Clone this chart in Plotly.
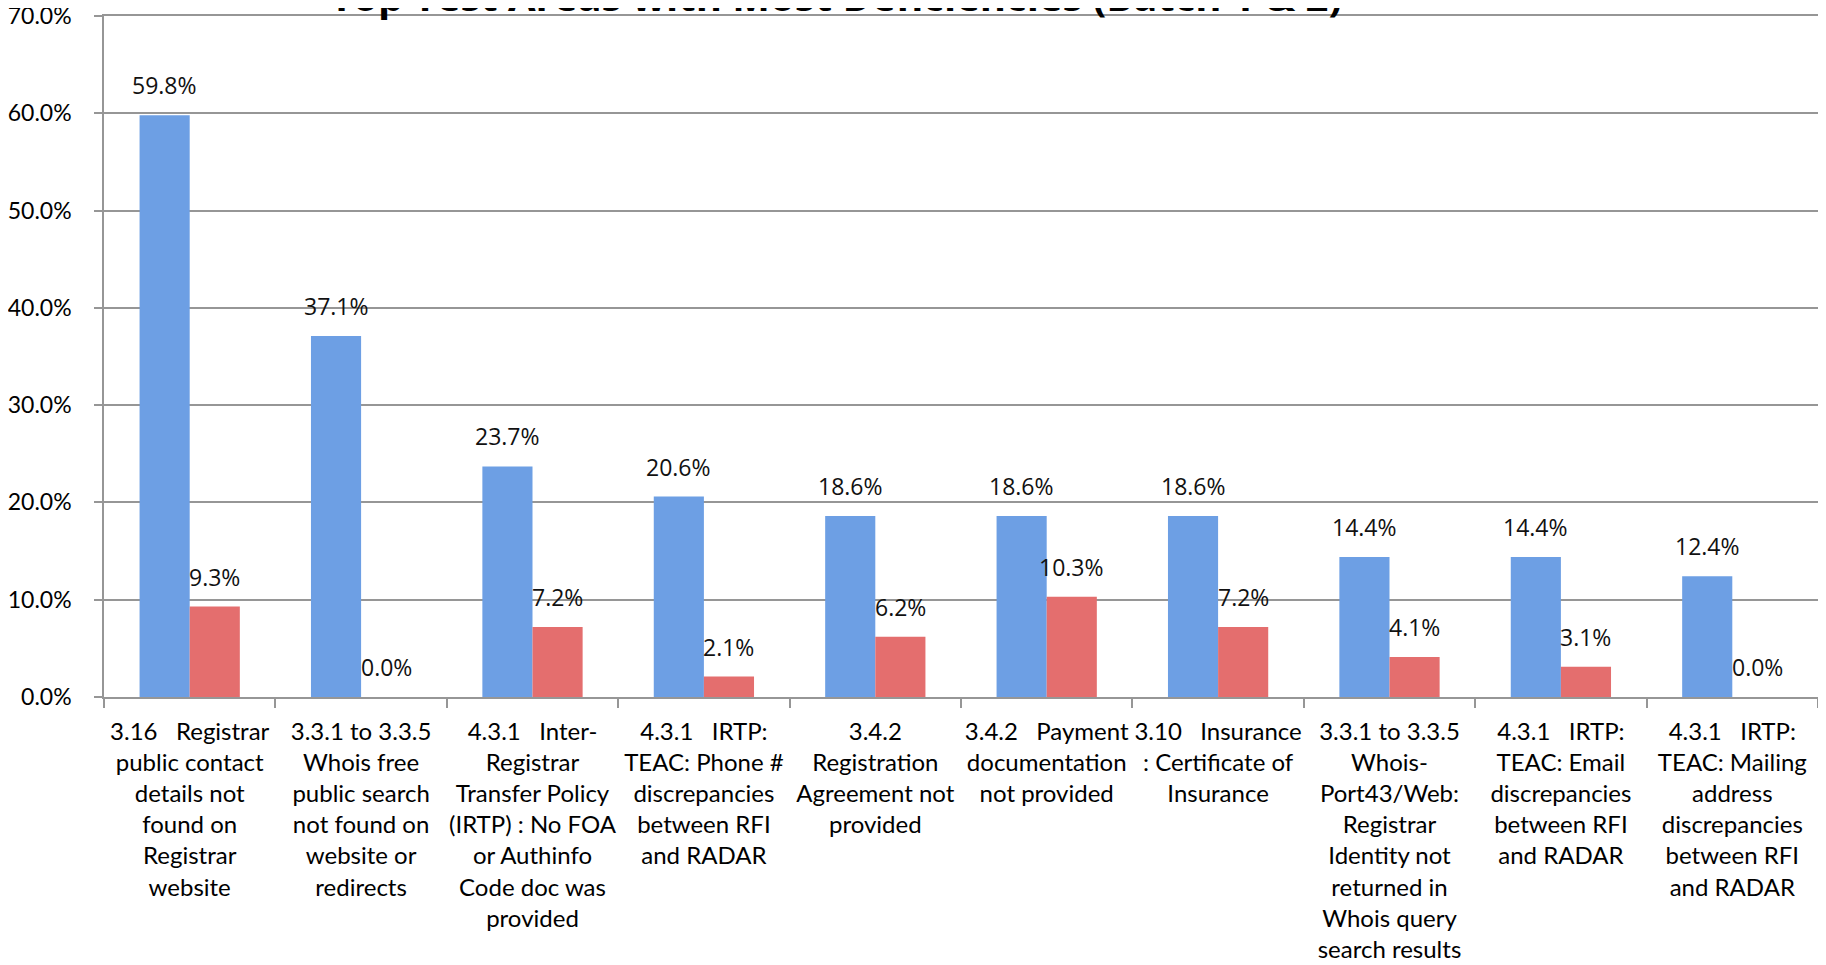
import plotly.graph_objects as go

categories = [
    "3.16\u00a0\u00a0\u00a0Registrar<br>public contact<br>details not<br>found on<br>Registrar<br>website",
    "3.3.1 to 3.3.5<br>Whois free<br>public search<br>not found on<br>website or<br>redirects",
    "4.3.1\u00a0\u00a0\u00a0Inter-<br>Registrar<br>Transfer Policy<br>(IRTP) : No FOA<br>or Authinfo<br>Code doc was<br>provided",
    "4.3.1\u00a0\u00a0\u00a0IRTP:<br>TEAC: Phone #<br>discrepancies<br>between RFI<br>and RADAR",
    "3.4.2<br>Registration<br>Agreement not<br>provided",
    "3.4.2\u00a0\u00a0\u00a0Payment<br>documentation<br>not provided",
    "3.10\u00a0\u00a0\u00a0Insurance<br>: Certificate of<br>Insurance",
    "3.3.1 to 3.3.5<br>Whois-<br>Port43/Web:<br>Registrar<br>Identity not<br>returned in<br>Whois query<br>search results",
    "4.3.1\u00a0\u00a0\u00a0IRTP:<br>TEAC: Email<br>discrepancies<br>between RFI<br>and RADAR",
    "4.3.1\u00a0\u00a0\u00a0IRTP:<br>TEAC: Mailing<br>address<br>discrepancies<br>between RFI<br>and RADAR",
]
batch1 = [59.8, 37.1, 23.7, 20.6, 18.6, 18.6, 18.6, 14.4, 14.4, 12.4]
batch2 = [9.3, 0.0, 7.2, 2.1, 6.2, 10.3, 7.2, 4.1, 3.1, 0.0]
y_ticks = [0, 10, 20, 30, 40, 50, 60, 70]
title_text = "Top Test Areas with Most Deficiencies (Batch 1 & 2)"

# the page body adds an 8px margin, so the figure is sized to compensate
W, H = 1818, 957
ML, MR, MT, MB = 96, 8, 8, 268
BARGAP = 0.415
cat_w = (W - ML - MR) / len(categories)
bar_w = cat_w * (1 - BARGAP) / 2
grid = "#969696"

fig = go.Figure()
fig.add_trace(go.Bar(x=categories, y=batch1, name="Batch 1",
                     marker=dict(color="#6d9fe4", line=dict(width=0))))
fig.add_trace(go.Bar(x=categories, y=batch2, name="Batch 2",
                     marker=dict(color="#e46e6e", line=dict(width=0))))

annots = []
for series, shift in ((batch1, -bar_w / 2), (batch2, bar_w / 2)):
    for c, v in zip(categories, series):
        annots.append(dict(x=c, y=v, xref="x", yref="y", text=f"{v:.1f}%",
                           showarrow=False, xshift=shift, yshift=30,
                           yanchor="middle",
                           font=dict(family="Open Sans", size=23, color="#111111")))

fig.update_layout(
    width=W, height=H,
    margin=dict(l=ML, r=MR, t=MT, b=MB, autoexpand=False),
    barmode="group", bargap=BARGAP, bargroupgap=0,
    showlegend=False,
    plot_bgcolor="white", paper_bgcolor="white",
    title=dict(text=f"<b>{title_text}</b>", x=828 / W, xanchor="center",
               xref="container", yref="container", y=1 - 2.5 / H, yanchor="bottom",
               font=dict(family="Open Sans", size=40, color="black")),
    annotations=annots,
)
fig.update_yaxes(range=[0, 70], tickvals=y_ticks,
                 ticktext=[f"{t:.1f}%" for t in y_ticks],
                 showgrid=True, gridcolor=grid, gridwidth=1.5,
                 showline=True, linecolor=grid, linewidth=1.5,
                 ticks="outside", ticklen=8, tickcolor=grid, tickwidth=1.5,
                 ticklabelstandoff=18, zeroline=False, automargin=False,
                 ticklabeloverflow="allow",
                 tickfont=dict(family="Lato", size=23, color="black"))
fig.update_xaxes(type="category", showline=True, linecolor=grid, linewidth=1.5,
                 mirror=True,
                 ticks="outside", tickson="boundaries", ticklen=9,
                 tickcolor=grid, tickwidth=1.5, tickangle=0, automargin=False,
                 ticklabelstandoff=12,
                 tickfont=dict(family="Lato", size=24, color="black"))

fig.write_html("out.html")
